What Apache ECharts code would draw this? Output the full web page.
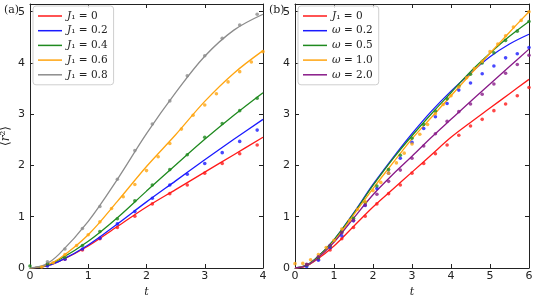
<!DOCTYPE html>
<html><head><meta charset="utf-8">
<script src="https://cdn.jsdelivr.net/npm/echarts@6/dist/echarts.min.js"></script>
<style>html,body{margin:0;padding:0;background:#fff}#c{width:534px;height:295px}</style>
</head><body><div id="c"></div>
<script>
// ---------- Panel (a) data ----------
const tLineA = [0, 0.25, 0.5, 1, 1.5, 2, 2.5, 3, 3.5, 4];
const lineA_J00 = [0, 0.03, 0.13, 0.43, 0.81, 1.19, 1.53, 1.87, 2.21, 2.55];
const lineA_J02 = [0, 0.03, 0.13, 0.45, 0.86, 1.29, 1.70, 2.11, 2.51, 2.90];
const lineA_J04 = [0, 0.04, 0.16, 0.52, 0.98, 1.50, 2.01, 2.51, 2.98, 3.42];
const lineA_J06 = [0, 0.04, 0.18, 0.65, 1.30, 1.98, 2.60, 3.25, 3.80, 4.24];
const lineA_J08 = [0, 0.06, 0.27, 0.91, 1.73, 2.62, 3.42, 4.13, 4.64, 4.95];

const tDotsA = [0.3, 0.6, 0.9, 1.2, 1.5, 1.8, 2.1, 2.4, 2.7, 3.0, 3.3, 3.6, 3.9];
const dotsA_J00 = [0.06, 0.17, 0.35, 0.57, 0.79, 1.01, 1.25, 1.45, 1.62, 1.85, 2.04, 2.23, 2.40];
const dotsA_J02 = [0.04, 0.17, 0.37, 0.58, 0.86, 1.10, 1.36, 1.62, 1.83, 2.04, 2.25, 2.47, 2.69];
const tDotsA_J04 = [0, 0.3, 0.6, 0.9, 1.2, 1.5, 1.8, 2.1, 2.4, 2.7, 3.0, 3.3, 3.6, 3.9];
const dotsA_J04 = [0.04, 0.08, 0.21, 0.44, 0.71, 0.96, 1.31, 1.62, 1.92, 2.21, 2.55, 2.82, 3.07, 3.31];
const tDotsA_J06 = [0.2, 0.4, 0.6, 0.8, 1.0, 1.2, 1.4, 1.6, 1.8, 2.0, 2.2, 2.4, 2.6, 2.8, 3.0, 3.2, 3.4, 3.6, 3.8, 4.0];
const dotsA_J06 = [0.02, 0.10, 0.26, 0.44, 0.65, 0.90, 1.16, 1.39, 1.63, 1.90, 2.17, 2.43, 2.71, 2.98, 3.18, 3.40, 3.63, 3.83, 4.02, 4.22];
const dotsA_J08 = [0.12, 0.37, 0.77, 1.20, 1.73, 2.29, 2.81, 3.26, 3.75, 4.14, 4.48, 4.74, 4.95];

// ---------- Panel (b) data ----------
const tLineB = [0, 0.25, 0.5, 1, 1.5, 2, 2.5, 3, 3.5, 4, 4.5, 5, 5.5, 6];
const lineB_J00 = [0, 0.03, 0.13, 0.43, 0.81, 1.19, 1.53, 1.87, 2.21, 2.55, 2.84, 3.12, 3.40, 3.68];
const lineB_w02 = [0, 0.04, 0.16, 0.55, 1.07, 1.63, 2.14, 2.62, 3.06, 3.45, 3.80, 4.12, 4.37, 4.56];
const lineB_w05 = [0, 0.04, 0.16, 0.55, 1.06, 1.61, 2.12, 2.58, 3.01, 3.42, 3.83, 4.19, 4.52, 4.81];
const lineB_w10 = [0, 0.03, 0.14, 0.52, 1.03, 1.55, 2.04, 2.52, 2.94, 3.36, 3.78, 4.19, 4.60, 5.00];
const lineB_w20 = [0, 0.03, 0.14, 0.50, 0.97, 1.43, 1.82, 2.18, 2.55, 2.90, 3.25, 3.59, 3.93, 4.27];

const tDotsB = [0.3, 0.6, 0.9, 1.2, 1.5, 1.8, 2.1, 2.4, 2.7, 3.0, 3.3, 3.6, 3.9, 4.2, 4.5, 4.8, 5.1, 5.4, 5.7, 6.0];
const dotsB_J00 = [0.06, 0.17, 0.35, 0.57, 0.79, 1.01, 1.25, 1.45, 1.62, 1.85, 2.04, 2.23, 2.40, 2.59, 2.77, 2.90, 3.07, 3.20, 3.36, 3.52];
const dotsB_w02 = [0.03, 0.15, 0.40, 0.63, 0.92, 1.22, 1.55, 1.85, 2.14, 2.45, 2.72, 2.95, 3.21, 3.47, 3.61, 3.79, 3.94, 4.10, 4.18, 4.30];
const dotsB_w05 = [0.06, 0.20, 0.43, 0.70, 0.97, 1.28, 1.60, 1.92, 2.20, 2.53, 2.80, 3.06, 3.30, 3.55, 3.78, 4.00, 4.20, 4.44, 4.62, 4.81];
const tDotsB_w10 = [0, 0.2, 0.4, 0.6, 0.8, 1.0, 1.2, 1.4, 1.6, 1.8, 2.0, 2.2, 2.4, 2.6, 2.8, 3.0, 3.2, 3.4, 3.6, 3.8, 4.0, 4.2, 4.4, 4.6, 4.8, 5.0, 5.2, 5.4, 5.6, 5.8, 6.0];
const dotsB_w10 = [0.085, 0.09, 0.16, 0.26, 0.40, 0.54, 0.76, 0.93, 1.14, 1.29, 1.51, 1.67, 1.85, 2.05, 2.24, 2.42, 2.61, 2.80, 3.01, 3.19, 3.36, 3.53, 3.71, 3.89, 4.03, 4.22, 4.37, 4.53, 4.70, 4.83, 5.00];
const dotsB_w20 = [0.07, 0.22, 0.44, 0.69, 0.93, 1.23, 1.44, 1.69, 1.91, 2.14, 2.38, 2.62, 2.86, 3.05, 3.20, 3.39, 3.59, 3.80, 3.97, 4.15];

const xTicksA = [0, 1, 2, 3, 4];
const xTicksB = [0, 1, 2, 3, 4, 5, 6];
const yTicks = [0, 1, 2, 3, 4, 5];

const legendA = [['a0','J','0'], ['a1','J','0.2'], ['a2','J','0.4'], ['a3','J','0.6'], ['a4','J','0.8']];
const legendB = [['b0','J','0'], ['b1','ω','0.2'], ['b2','ω','0.5'], ['b3','ω','1.0'], ['b4','ω','2.0']];

// ---------- styles ----------
const RED = '#ff1a1a', BLUE = '#1a1aff', GREEN = '#1f8a1f', ORANGE = '#ffa510', GRAY = '#8c8c8c', PURPLE = '#881a88';
const zip = (xs, ys) => xs.map((x, i) => [x, ys[i]]);
const labelMap = {};
legendA.concat(legendB).forEach(([k, s, v]) => {
  labelMap[k] = s === 'J' ? '{i|J}{n|\u2081 = ' + v + '}' : '{i|ω}{n| = ' + v + '}';
});

function lineS(name, xi, xs, ys, color) {
  return { name, type: 'line', xAxisIndex: xi, yAxisIndex: xi, data: zip(xs, ys), smooth: 0.35,
    showSymbol: false, symbol: 'none', lineStyle: { color, width: 1.3 }, itemStyle: { color }, z: 3, silent: true };
}
function dotS(name, xi, xs, ys, color) {
  return { name, type: 'scatter', xAxisIndex: xi, yAxisIndex: xi, data: zip(xs, ys), symbol: 'circle',
    symbolSize: 3.6, itemStyle: { color }, z: 4, silent: true };
}
const axisFont = { fontFamily: 'DejaVu Sans', fontSize: 11, color: '#222' };
function xAx(gi, max, pos, showLabel) {
  return { type: 'value', gridIndex: gi, position: pos, min: 0, max, interval: 1,
    axisLine: { show: true, onZero: false, lineStyle: { color: '#222', width: 1 } },
    axisTick: { show: true, inside: true, length: 4, lineStyle: { color: '#222' } },
    axisLabel: Object.assign({ show: showLabel, margin: 3 }, axisFont),
    splitLine: { show: false },
    name: showLabel ? 't' : '', nameLocation: 'middle', nameGap: 17,
    nameTextStyle: { fontFamily: 'DejaVu Serif', fontStyle: 'italic', fontSize: 11, color: '#222' } };
}
function yAx(gi, pos, showLabel, withName) {
  return { type: 'value', gridIndex: gi, position: pos, min: 0, max: 5.15, interval: 1,
    axisLine: { show: true, onZero: false, lineStyle: { color: '#222', width: 1 } },
    axisTick: { show: true, inside: true, length: 4, lineStyle: { color: '#222' } },
    axisLabel: Object.assign({ show: showLabel, margin: 5,
      formatter: v => (yTicks.indexOf(v) >= 0 ? String(v) : '') }, axisFont),
    splitLine: { show: false },
    name: withName ? '{n|⟨}{i|r}{n|²⟩}' : '', nameLocation: 'middle', nameGap: 18, nameRotate: 90,
    nameTextStyle: { rich: {
      n: { fontFamily: 'DejaVu Serif', fontSize: 12, color: '#222' },
      i: { fontFamily: 'DejaVu Serif', fontStyle: 'italic', fontSize: 12, color: '#222' } } } };
}
function legend(items, left) {
  return { orient: 'vertical', left, top: 6, data: items.map(d => d[0]), icon: 'rect',
    itemWidth: 24, itemHeight: 1.5, itemGap: 2.7, padding: [4, 6, 4, 5],
    borderColor: '#cfcfcf', borderWidth: 1, borderRadius: 3, backgroundColor: 'rgba(255,255,255,0.85)',
    selectedMode: false, formatter: n => labelMap[n],
    textStyle: { lineHeight: 12, rich: {
      i: { fontFamily: 'DejaVu Serif', fontStyle: 'italic', fontSize: 10.5, color: '#222' },
      n: { fontFamily: 'DejaVu Serif', fontSize: 10.5, color: '#222' } } } };
}

const chart = echarts.init(document.getElementById('c'), null, { renderer: 'canvas' });
chart.setOption({
  animation: false,
  backgroundColor: '#fff',
  grid: [
    { left: 30, top: 4, width: 233, height: 264, outerBoundsMode: 'none', containLabel: false },
    { left: 295, top: 4, width: 234, height: 264, outerBoundsMode: 'none', containLabel: false }
  ],
  xAxis: [xAx(0, xTicksA[xTicksA.length - 1], 'bottom', true), xAx(1, xTicksB[xTicksB.length - 1], 'bottom', true),
          xAx(0, xTicksA[xTicksA.length - 1], 'top', false), xAx(1, xTicksB[xTicksB.length - 1], 'top', false)],
  yAxis: [yAx(0, 'left', true, true), yAx(1, 'left', true, false), yAx(0, 'right', false, false), yAx(1, 'right', false, false)],
  legend: [legend(legendA, 33), legend(legendB, 298)],
  graphic: [
    { type: 'text', left: 4, top: 5, style: { text: '(a)', font: '11px "DejaVu Serif"', fill: '#222' } },
    { type: 'text', left: 269, top: 5, style: { text: '(b)', font: '11px "DejaVu Serif"', fill: '#222' } }
  ],
  series: [
    dotS('da0', 0, tDotsA, dotsA_J00, RED),
    dotS('da1', 0, tDotsA, dotsA_J02, BLUE),
    dotS('da2', 0, tDotsA_J04, dotsA_J04, GREEN),
    dotS('da3', 0, tDotsA_J06, dotsA_J06, ORANGE),
    dotS('da4', 0, tDotsA, dotsA_J08, GRAY),
    lineS('a0', 0, tLineA, lineA_J00, RED),
    lineS('a1', 0, tLineA, lineA_J02, BLUE),
    lineS('a2', 0, tLineA, lineA_J04, GREEN),
    lineS('a3', 0, tLineA, lineA_J06, ORANGE),
    lineS('a4', 0, tLineA, lineA_J08, GRAY),
    dotS('db0', 1, tDotsB, dotsB_J00, RED),
    dotS('db1', 1, tDotsB, dotsB_w02, BLUE),
    dotS('db2', 1, tDotsB, dotsB_w05, GREEN),
    dotS('db3', 1, tDotsB_w10, dotsB_w10, ORANGE),
    dotS('db4', 1, tDotsB, dotsB_w20, PURPLE),
    lineS('b0', 1, tLineB, lineB_J00, RED),
    lineS('b1', 1, tLineB, lineB_w02, BLUE),
    lineS('b2', 1, tLineB, lineB_w05, GREEN),
    lineS('b3', 1, tLineB, lineB_w10, ORANGE),
    lineS('b4', 1, tLineB, lineB_w20, PURPLE)
  ]
});
</script></body></html>
